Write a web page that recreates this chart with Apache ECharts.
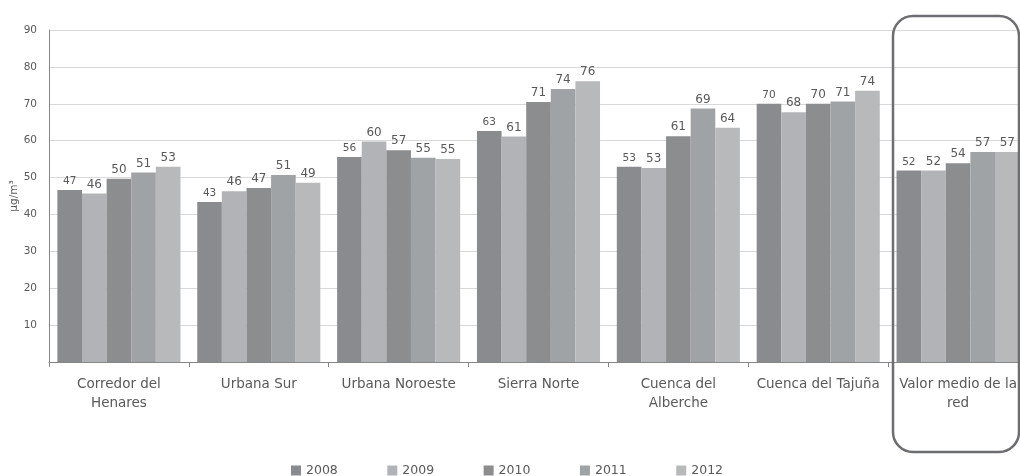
<!DOCTYPE html>
<html>
<head>
<meta charset="utf-8">
<script src="https://cdn.jsdelivr.net/npm/echarts@6/dist/echarts.min.js"></script>
<style>
html,body{margin:0;padding:0;background:#fff;}
#c{width:1020px;height:476px;}
</style>
</head>
<body>
<div id="c"></div>
<script>
const categories = ['Corredor del\nHenares', 'Urbana Sur', 'Urbana Noroeste', 'Sierra Norte', 'Cuenca del\nAlberche', 'Cuenca del Tajuña', 'Valor medio de la\nred'];
const years = ['2008', '2009', '2010', '2011', '2012'];
const v2008 = [46.6, 43.4, 55.6, 62.6, 52.9, 70.0, 51.9];
const v2009 = [45.7, 46.3, 59.8, 61.1, 52.6, 67.7, 51.9];
const v2010 = [49.7, 47.2, 57.4, 70.5, 61.2, 70.0, 53.9];
const v2011 = [51.4, 50.7, 55.4, 74.0, 68.7, 70.6, 56.9];
const v2012 = [52.9, 48.6, 55.0, 76.1, 63.5, 73.5, 56.9];
const yTicks = [10, 20, 30, 40, 50, 60, 70, 80, 90];

const colors = ['#8a8b8e', '#b2b3b6', '#8c8d8f', '#a0a3a6', '#b8b9bb'];
const seriesData = [v2008, v2009, v2010, v2011, v2012];
const FONT = 'DejaVu Sans';

const chart = echarts.init(document.getElementById('c'));
chart.setOption({
  animation: false,
  backgroundColor: '#ffffff',
  color: colors,
  grid: { left: 49, top: 30, width: 979, height: 332, outerBoundsMode: 'none', containLabel: false },
  legend: {
    top: 464,
    left: 291,
    padding: 0,
    icon: 'rect',
    itemWidth: 10,
    itemHeight: 10,
    itemGap: 49.5,
    textStyle: { fontFamily: FONT, fontSize: 12.5, color: '#595959' },
    data: years
  },
  xAxis: {
    type: 'category',
    data: categories,
    axisLine: { lineStyle: { color: '#868686', width: 1 } },
    axisTick: { show: true, length: 5, interval: 0, lineStyle: { color: '#868686' } },
    axisLabel: { interval: 0, margin: 13, fontFamily: FONT, fontSize: 13.5, color: '#595959', lineHeight: 19 }
  },
  yAxis: {
    type: 'value',
    min: 0,
    max: 90,
    interval: 10,
    name: 'µg/m³',
    nameLocation: 'middle',
    nameGap: 29,
    nameMoveOverlap: false,
    nameTextStyle: { fontFamily: FONT, fontSize: 10.5, color: '#595959' },
    axisLine: { show: true, lineStyle: { color: '#868686', width: 1 } },
    axisTick: { show: false },
    splitLine: { lineStyle: { color: '#d9d9d9', width: 1 } },
    axisLabel: {
      margin: 12,
      fontFamily: FONT, fontSize: 10.5, color: '#595959',
      formatter: function (v) { return yTicks.indexOf(v) >= 0 ? String(v) : ''; }
    }
  },
  series: years.map(function (y, i) {
    return {
      name: y,
      type: 'bar',
      data: seriesData[i],
      barGap: '0%',
      barCategoryGap: '12%',
      itemStyle: { color: colors[i] },
      label: {
        show: true,
        position: 'top',
        distance: 3,
        fontFamily: FONT,
        fontSize: i === 0 ? 10.5 : 12,
        color: '#595959',
        formatter: function (p) { return String(Math.round(p.value)); }
      }
    };
  }),
  graphic: [{
    type: 'rect',
    shape: { x: 893, y: 16, width: 126, height: 436, r: 20 },
    style: { fill: 'none', stroke: '#6d6e71', lineWidth: 2.5 },
    z: 100
  }]
});
</script>
</body>
</html>
